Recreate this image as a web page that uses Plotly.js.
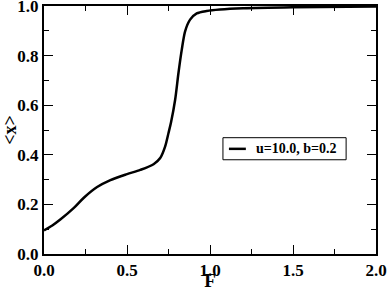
<!DOCTYPE html>
<html>
<head>
<meta charset="utf-8">
<script src="https://cdn.plot.ly/plotly-3.0.1.min.js"></script>
<style>html,body{margin:0;padding:0;background:#fff;}#chart{width:388px;height:291px;}</style>
</head>
<body>
<div id="chart"></div>
<script>
const seriesName = "u=10.0, b=0.2";
const F  = [0.0, 0.05, 0.10, 0.18, 0.24, 0.32, 0.40, 0.50, 0.58, 0.66, 0.70, 0.73, 0.75, 0.765, 0.79, 0.81, 0.83, 0.85, 0.88, 0.92, 0.98, 1.06, 1.2, 1.5, 2.0];
const X  = [0.095, 0.115, 0.140, 0.186, 0.227, 0.270, 0.298, 0.322, 0.339, 0.362, 0.387, 0.434, 0.488, 0.530, 0.622, 0.730, 0.824, 0.898, 0.945, 0.970, 0.980, 0.986, 0.991, 0.995, 0.998];
const xTickVals = [0, 0.5, 1.0, 1.5, 2.0];
const xTickText = ["0.0", "0.5", "1.0", "1.5", "2.0"];
const yTickVals = [0, 0.2, 0.4, 0.6, 0.8, 1.0];
const yTickText = ["0.0", "0.2", "0.4", "0.6", "0.8", "1.0"];

const FAM = "Liberation Serif";
function axis(extra) {
  return Object.assign({
    showline: true, linecolor: "#000", linewidth: 2, mirror: "allticks",
    ticks: "inside", ticklen: 9, tickwidth: 1, tickcolor: "#000",
    showgrid: false, zeroline: false, ticklabeloverflow: "allow",
    tickfont: {family: FAM, size: 17, color: "#000", weight: "bold"}
  }, extra);
}
const data = [
  {x: F, y: X, type: "scatter", mode: "lines", name: seriesName, showlegend: false,
   line: {color: "#000", width: 2.5, shape: "spline", smoothing: 0.8}}
];
const layout = {
  width: 388, height: 291,
  margin: {l: 44, r: 12, t: 6, b: 37},
  paper_bgcolor: "#fff", plot_bgcolor: "#fff",
  showlegend: false,
  shapes: [
    {type: "rect", xref: "paper", yref: "paper", x0: 0.539, x1: 0.910, y0: 0.380, y1: 0.469,
     line: {color: "#000", width: 1}, fillcolor: "#fff", layer: "above"},
    {type: "line", xref: "paper", yref: "paper", x0: 0.557, x1: 0.608, y0: 0.424, y1: 0.424,
     line: {color: "#000", width: 2.5}, layer: "above"}
  ],
  annotations: [
    {xref: "paper", yref: "paper", x: 0.634, y: 0.426, xanchor: "left", yanchor: "middle",
     text: seriesName, showarrow: false,
     font: {family: FAM, size: 14, color: "#000", weight: "bold"}}
  ],
  xaxis: axis({
    range: [0, 2], tickvals: xTickVals, ticktext: xTickText,
    minor: {dtick: 0.25, tick0: 0, ticks: "inside", ticklen: 5, tickcolor: "#000"},
    title: {text: "F", font: {family: FAM, size: 19, color: "#000", weight: "bold"}}
  }),
  yaxis: axis({
    range: [0, 1], tickvals: yTickVals, ticktext: yTickText,
    minor: {dtick: 0.1, tick0: 0, ticks: "inside", ticklen: 5, tickcolor: "#000"},
    title: {text: "&lt;x&gt;", font: {family: FAM, size: 18, color: "#000", weight: "bold"}, standoff: 4}
  })
};
Plotly.newPlot("chart", data, layout, {staticPlot: true, displayModeBar: false});
</script>
</body>
</html>
